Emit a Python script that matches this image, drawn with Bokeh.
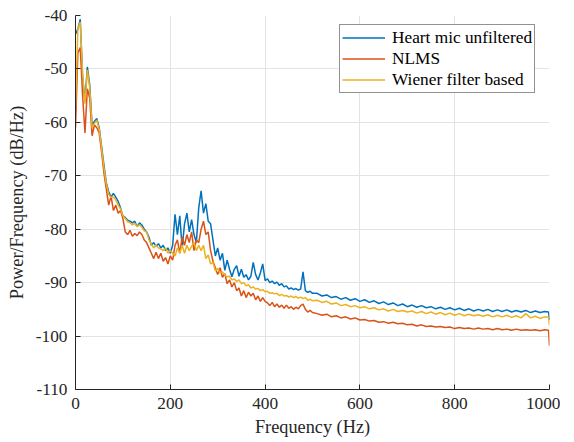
from bokeh.plotting import figure
from bokeh.models import Range1d, FixedTicker, Legend, LegendItem
from bokeh.embed import file_html
from bokeh.resources import INLINE

# ---- data ----
freq = list(range(0, 505, 5)) + list(range(510, 1000, 10)) + [998, 1000]

heart_mic = [
    -43.5, -42.5, -40.7, -51.5, -56.0, -49.6, -53.0, -60.5, -59.8, -59.3,
    -61.0, -64.5, -68.0, -71.3, -73.0, -74.0, -73.3, -74.0, -74.8, -76.0,
    -77.5, -77.8, -78.3, -78.5, -78.8, -78.5, -79.5, -78.8, -79.2, -80.0,
    -80.5, -81.5, -83.0, -82.5, -83.2, -82.7, -83.5, -83.0, -84.0, -83.5,
    -84.5, -83.0, -77.2, -81.0, -77.5, -83.5, -79.0, -77.0, -80.5, -78.2,
    -81.0, -82.5, -76.0, -72.8, -77.0, -75.2, -78.5, -79.0, -82.0, -85.0,
    -83.5, -85.8, -84.5, -87.7, -85.8, -87.5, -88.9, -87.5, -86.8, -88.8,
    -87.5, -89.0, -88.5, -89.5, -88.8, -86.2, -88.5, -89.5, -88.2, -86.5,
    -89.6, -89.3, -90.0, -89.7, -90.2, -89.9, -90.5, -90.2, -90.8, -90.6,
    -91.2, -91.0, -91.3, -91.1, -91.4, -91.2, -88.0, -91.5, -91.8, -91.6,
    -92.0,
    -92.0, -92.5, -92.3, -92.8, -92.6, -93.1, -92.8, -93.3, -93.0, -93.5,
    -93.2, -93.7, -93.4, -93.9, -93.6, -94.1, -93.8, -94.3, -94.0, -94.5,
    -94.2, -94.6, -94.3, -94.7, -94.5, -94.9, -94.6, -95.0, -94.7, -95.1,
    -94.8, -95.2, -94.9, -95.3, -95.0, -95.3, -95.0, -95.4, -95.1, -95.4,
    -95.1, -95.5, -95.2, -95.5, -95.2, -95.6, -95.3, -95.6, -95.4, -95.5,
    -97.0,
]

nlms = [
    -61.0, -47.0, -46.0, -55.0, -62.0, -53.7, -55.5, -62.5, -60.5, -61.0,
    -62.0, -65.5, -69.5, -72.5, -75.5, -73.8, -76.5, -75.5, -77.0, -76.5,
    -78.0, -80.5, -81.0, -80.2, -81.3, -80.8, -81.2, -80.5, -81.0, -82.0,
    -82.5, -83.5, -84.5, -85.5, -84.3, -85.5, -84.5, -86.0, -85.3, -86.5,
    -85.0, -85.8, -83.0, -82.0, -84.5, -81.5, -83.0, -81.0, -82.5, -80.5,
    -84.0, -82.0, -82.5, -80.0, -78.5, -81.0, -80.5, -84.0, -86.0, -87.2,
    -88.5, -87.2, -89.0, -88.3, -90.2, -89.5, -90.8, -90.0, -91.5, -91.0,
    -92.5, -91.5, -92.8, -91.8, -92.5, -92.0, -93.2, -92.5, -93.5, -92.8,
    -93.5, -93.8, -94.3, -93.7, -94.5, -94.0, -94.6, -94.2, -94.8, -94.2,
    -94.8, -94.5, -95.0, -94.6, -94.9, -94.3, -94.0, -95.0, -95.5, -95.2,
    -95.6,
    -95.8, -96.1, -95.9, -96.4, -96.2, -96.6, -96.4, -96.8, -96.6, -97.0,
    -96.9, -97.2, -97.1, -97.4, -97.3, -97.6, -97.4, -97.7, -97.6, -97.9,
    -97.8, -98.1, -97.9, -98.2, -98.1, -98.3, -98.2, -98.4, -98.3, -98.6,
    -98.4, -98.6, -98.5, -98.7, -98.5, -98.7, -98.6, -98.8, -98.6, -98.8,
    -98.7, -98.9, -98.7, -98.9, -98.8, -98.9, -98.8, -99.0, -98.8, -98.9,
    -101.8,
]

wiener = [
    -57.0, -42.5, -41.2, -51.0, -56.5, -50.2, -53.5, -61.0, -60.2, -59.6,
    -61.3, -64.8, -68.5, -71.5, -73.5, -74.0, -74.0, -74.5, -75.5, -76.2,
    -77.5, -78.0, -78.6, -78.8, -79.2, -78.9, -79.5, -79.2, -79.6, -80.3,
    -80.5, -82.0, -82.8, -83.5, -83.0, -83.5, -83.7, -84.0, -83.5, -84.5,
    -84.0, -84.5, -85.0, -83.5, -84.5, -83.0, -84.5, -83.0, -84.0, -83.2,
    -82.5, -84.0, -83.0, -84.0, -83.0, -85.5, -84.8, -86.5, -86.2, -87.8,
    -87.3, -88.2, -88.0, -88.6, -88.9, -88.8, -89.5, -89.3, -89.8, -89.5,
    -90.2, -90.0, -90.6, -90.4, -91.0, -90.8, -91.2, -91.1, -91.5, -91.3,
    -91.7, -91.6, -92.0, -91.9, -92.1, -92.0, -92.4, -92.2, -92.5, -92.4,
    -92.7, -92.5, -92.8, -92.6, -92.9, -92.7, -93.0, -92.8, -93.3, -93.1,
    -93.4,
    -93.3, -93.7, -93.5, -94.0, -93.8, -94.3, -94.1, -94.5, -94.3, -94.7,
    -94.5, -94.9, -94.7, -95.1, -94.9, -95.3, -95.0, -95.4, -95.2, -95.5,
    -95.3, -95.7, -95.4, -95.8, -95.5, -95.9, -95.6, -96.0, -95.7, -96.1,
    -95.8, -96.2, -95.9, -96.2, -96.0, -96.3, -96.0, -96.4, -96.1, -96.4,
    -96.1, -96.5, -96.2, -96.6, -95.8, -96.6, -96.3, -96.7, -96.4, -96.5,
    -98.0,
]

series_names = ["Heart mic unfiltered", "NLMS", "Wiener filter based"]
series_colors = ["#0072BD", "#D95319", "#EDB120"]
x_ticks = [0, 200, 400, 600, 800, 1000]
y_ticks = [-110, -100, -90, -80, -70, -60, -50, -40]
y_tick_labels = ["-110", "-100", "-90", "-80", "-70", "-60", "-50", "-40"]

FONT = "Liberation Serif"
TXT = "#262626"

p = figure(width=560, height=442, output_backend="svg", toolbar_location=None,
           x_range=Range1d(0, 1000), y_range=Range1d(-110, -40),
           min_border_left=75, min_border_right=11, min_border_top=15,
           min_border_bottom=53)
p.outline_line_color = None
p.background_fill_color = "white"

for ax, ticks in ((p.xaxis[0], x_ticks), (p.yaxis[0], y_ticks)):
    ax.ticker = FixedTicker(ticks=ticks)
    ax.minor_tick_line_color = None
    ax.major_tick_in = 5
    ax.major_tick_out = 0
    ax.axis_line_color = TXT
    ax.axis_line_width = 1
    ax.major_tick_line_color = TXT
    ax.major_label_text_font = FONT
    ax.major_label_text_font_size = "17.3px"
    ax.major_label_text_color = TXT
    ax.axis_label_text_font = FONT
    ax.axis_label_text_font_size = "18.3px"
    ax.axis_label_text_font_style = "normal"
    ax.axis_label_text_color = TXT

p.yaxis.major_label_overrides = dict(zip(y_ticks, y_tick_labels))
p.xaxis.axis_label = "Frequency (Hz)"
p.yaxis.axis_label = "Power/Frequency (dB/Hz)"
p.xaxis.major_label_standoff = 8
p.yaxis.major_label_standoff = 8
p.xaxis.axis_label_standoff = 5
p.yaxis.axis_label_standoff = 6

p.xgrid.grid_line_color = "#e3e3e3"
p.ygrid.grid_line_color = "#e3e3e3"
p.xgrid.ticker = FixedTicker(ticks=x_ticks)
p.ygrid.ticker = FixedTicker(ticks=y_ticks)

items = []
for name, vals, col in zip(series_names, [heart_mic, nlms, wiener], series_colors):
    r = p.line(freq, vals, line_color=col, line_width=1.5)
    items.append(LegendItem(label=name, renderers=[r]))

legend = Legend(items=items, location=(264, 296))
legend.border_line_color = TXT
legend.border_line_width = 1
legend.background_fill_color = "white"
legend.background_fill_alpha = 1
legend.label_text_font = FONT
legend.label_text_font_size = "17.3px"
legend.label_text_color = "black"
legend.glyph_width = 43
legend.glyph_height = 21
legend.label_height = 21
legend.label_standoff = 7
legend.spacing = 0
legend.padding = 2
legend.margin = 0
p.add_layout(legend)

open("out.html", "w").write(file_html(p, INLINE))
